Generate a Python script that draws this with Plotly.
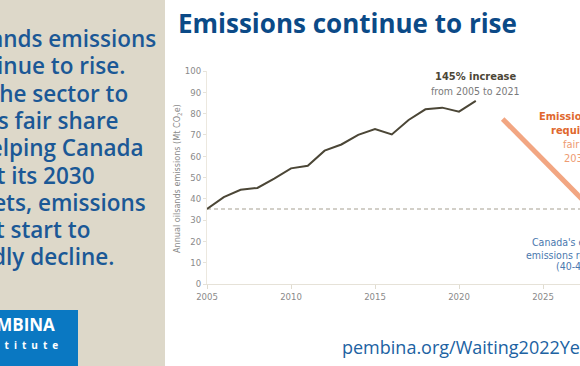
import plotly.graph_objects as go

# ---- data ----
years = list(range(2005, 2022))
emissions = [35.2, 40.8, 44.2, 45.1, 49.5, 54.3, 55.5, 62.6, 65.5, 70.0,
             72.8, 70.2, 77.0, 82.0, 82.8, 80.9, 86.0]
baseline_years = [2005, 2031]
baseline_values = [35.2, 35.2]
decline_years = [2022.6, 2030]
decline_values = [77.5, 18.5]
x_ticks = [2005, 2010, 2015, 2020, 2025, 2030]
y_ticks = list(range(0, 101, 10))

left_lines = ["Oilsands emissions", "continue to rise.", "For the sector to",
              "do its fair share", "in helping Canada", "meet its 2030",
              "targets, emissions", "must start to", "rapidly decline."]

# ---- layout geometry (pixels) ----
FW, FH = 580, 366
L, R, T, B = 207, 0, 71, 82
PW, PH = FW - L - R, FH - T - B
X0 = 2005
PX_PER_YEAR = 16.8


def px(x):
    return (x - L) / PW


def py(y):
    return (FH - B - y) / PH


COND = "Liberation Sans Narrow, DejaVu Sans Condensed, Arial Narrow, sans-serif"
OPEN = "Open Sans, Noto Sans, sans-serif"
BEIGE = "#ddd8c9"

fig = go.Figure()

fig.add_trace(go.Scatter(x=baseline_years, y=baseline_values, mode="lines",
                         line=dict(color="#c4c0b6", width=1.3, dash="4px,3px"),
                         hoverinfo="skip", showlegend=False))
fig.add_trace(go.Scatter(x=decline_years, y=decline_values, mode="lines",
                         line=dict(color="#f2a682", width=5),
                         hoverinfo="skip", showlegend=False))
fig.add_trace(go.Scatter(x=years, y=emissions, mode="lines",
                         line=dict(color="#4b4636", width=2),
                         hoverinfo="skip", showlegend=False))

shapes = [
    dict(type="rect", xref="paper", yref="paper", x0=px(-2), x1=px(165),
         y0=py(FH + 2), y1=py(-2), fillcolor=BEIGE, line=dict(width=0), layer="below"),
    dict(type="rect", xref="paper", yref="paper", x0=px(-2), x1=px(78),
         y0=py(FH + 2), y1=py(310), fillcolor="#0a78c2", line=dict(width=0)),
]

ann = []
# left text block
for i, t in enumerate(left_lines):
    ann.append(dict(x=px(-53), y=py(56 + i * 27.3), xref="paper", yref="paper",
                    text=t, showarrow=False, xanchor="left", yanchor="bottom",
                    font=dict(family=OPEN, size=22.5, color="#1b5896", weight=600)))
# logo
ann.append(dict(x=px(57), y=py(338), xref="paper", yref="paper", text="<b>PEMBINA</b>",
                showarrow=False, xanchor="right", yanchor="bottom",
                font=dict(family=OPEN, size=17, color="white")))
ann.append(dict(x=px(60), y=py(354), xref="paper", yref="paper",
                text="<b>" + "\u2002".join("institute") + "</b>",
                showarrow=False, xanchor="right", yanchor="bottom",
                font=dict(family=OPEN, size=10, color="white")))
# title
ann.append(dict(x=px(176), y=py(23), xref="paper", yref="paper",
                text="<b>Emissions continue to rise</b>", showarrow=False,
                xanchor="left", yanchor="middle",
                font=dict(family=OPEN, size=26, color="#0b4a87")))
# url
ann.append(dict(x=px(340), y=py(347), xref="paper", yref="paper",
                text="pembina.org/Waiting2022YearInReview", showarrow=False,
                xanchor="left", yanchor="middle",
                font=dict(family=OPEN, size=18, color="#2062a2")))
# y axis title
ann.append(dict(x=px(177), y=py(179), xref="paper", yref="paper",
                text="Annual oilsands emissions (Mt CO<sub>2</sub>e)", showarrow=False,
                textangle=-90, xanchor="center", yanchor="middle",
                font=dict(family=COND, size=9, color="#8a8a8a")))
# increase annotation
ann.append(dict(x=px(475), y=py(77), xref="paper", yref="paper",
                text="<b>145% increase</b>", showarrow=False, xanchor="center",
                yanchor="middle", font=dict(family=COND, size=11, color="#4b4636")))
ann.append(dict(x=px(475), y=py(91), xref="paper", yref="paper",
                text="from 2005 to 2021", showarrow=False, xanchor="center",
                yanchor="middle", font=dict(family=COND, size=10.5, color="#7a7a7a")))
# orange annotation
orange = [("<b>Emissions decline</b>", 537, 116.7, "#e0682e"),
          ("<b>required to meet</b>", 549, 130.7, "#e0682e"),
          ("fair share of", 561, 144.5, "#ee9b72"),
          ("2030 targets", 562, 158.5, "#ee9b72")]
for t, x, y, c in orange:
    ann.append(dict(x=px(x), y=py(y), xref="paper", yref="paper", text=t,
                    showarrow=False, xanchor="left", yanchor="middle",
                    font=dict(family=COND, size=11, color=c)))
# blue annotation
blue = [("Canada's economy-wide", 530, 242),
        ("emissions reduction target", 524, 254.5),
        ("(40-45% below 2005 levels)", 554, 266)]
for t, x, y in blue:
    ann.append(dict(x=px(x), y=py(y), xref="paper", yref="paper", text=t,
                    showarrow=False, xanchor="left", yanchor="middle",
                    font=dict(family=COND, size=10.5, color="#4a78ae")))

fig.update_layout(
    template="none",
    width=FW, height=FH,
    margin=dict(l=L, r=R, t=T, b=B, autoexpand=False),
    paper_bgcolor="white", plot_bgcolor="white",
    showlegend=False,
    shapes=shapes,
    annotations=ann,
    xaxis=dict(range=[X0, X0 + PW / PX_PER_YEAR], tickvals=x_ticks,
               showgrid=False, zeroline=False, showline=True, linecolor="#e6e2d8",
               linewidth=1, ticks="outside", ticklen=4, tickcolor="#e0dcd0",
               tickfont=dict(family=COND, size=9.5, color="#8a8a8a"), automargin=False),
    yaxis=dict(range=[0, 100], tickvals=y_ticks, showgrid=False, zeroline=False,
               showline=True, linecolor="#ece8df", linewidth=1, ticks="outside",
               ticklen=3, tickcolor="#e6e2d8",
               tickfont=dict(family=COND, size=9.5, color="#8a8a8a"), automargin=False),
)

fig.write_html("out.html", config={"displayModeBar": False},
               post_script="document.body.style.margin='0';document.body.style.overflow='hidden';")
